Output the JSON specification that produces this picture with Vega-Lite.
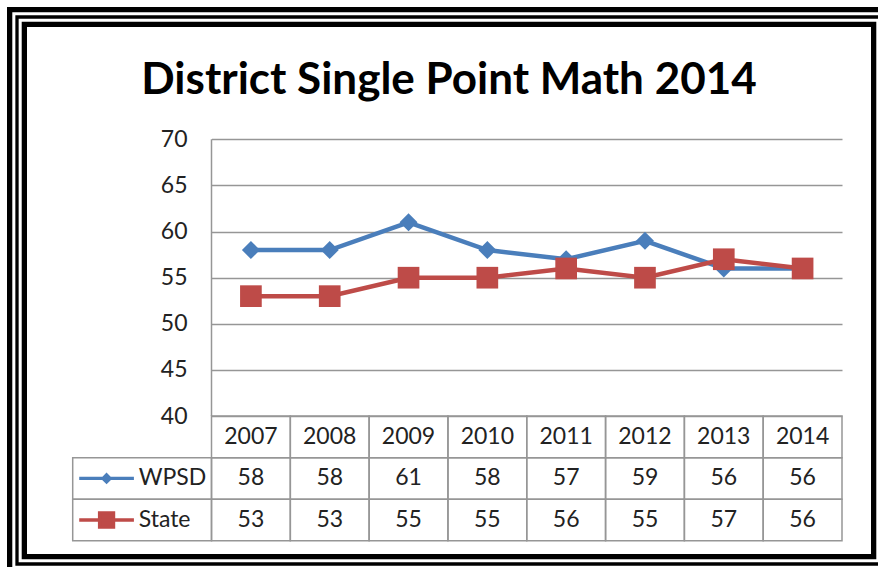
{
  "$schema": "https://vega.github.io/schema/vega-lite/v6.json",
  "width": 864,
  "height": 547,
  "autosize": {"type": "none"},
  "padding": {"left": 17, "top": 17, "right": -3, "bottom": 3},
  "background": "white",
  "config": {"view": {"stroke": null}, "font": "Lato"},
  "title": {
    "text": "District Single Point Math 2014",
    "font": "Lato",
    "fontSize": 44,
    "fontWeight": "bold",
    "color": "black",
    "anchor": "middle",
    "frame": "group",
    "offset": -131,
    "baseline": "alphabetic"
  },
  "data": {
    "values": [
      {"year": "2007", "series": "WPSD", "value": 58},
      {"year": "2008", "series": "WPSD", "value": 58},
      {"year": "2009", "series": "WPSD", "value": 61},
      {"year": "2010", "series": "WPSD", "value": 58},
      {"year": "2011", "series": "WPSD", "value": 57},
      {"year": "2012", "series": "WPSD", "value": 59},
      {"year": "2013", "series": "WPSD", "value": 56},
      {"year": "2014", "series": "WPSD", "value": 56},
      {"year": "2007", "series": "State", "value": 53},
      {"year": "2008", "series": "State", "value": 53},
      {"year": "2009", "series": "State", "value": 55},
      {"year": "2010", "series": "State", "value": 55},
      {"year": "2011", "series": "State", "value": 56},
      {"year": "2012", "series": "State", "value": 55},
      {"year": "2013", "series": "State", "value": 57},
      {"year": "2014", "series": "State", "value": 56}
    ]
  },
  "resolve": {
    "scale": {"x": "independent", "y": "independent", "color": "independent", "shape": "independent", "fill": "independent", "stroke": "independent"},
    "axis": {"x": "independent", "y": "independent"}
  },
  "layer": [
    {
      "data": {"values": [{}]},
      "layer": [
        {"mark": {"type": "rect", "fill": "transparent", "stroke": "black", "strokeWidth": 20}, "encoding": {}},
        {"mark": {"type": "rect", "fill": "transparent", "stroke": "white", "strokeWidth": 9.4}, "encoding": {}},
        {"mark": {"type": "rect", "fill": "transparent", "stroke": "black", "strokeWidth": 3.3}, "encoding": {}}
      ]
    },
    {
      "layer": [
        {
          "mark": {"type": "line", "strokeWidth": 4.5},
          "encoding": {
            "x": {"field": "year", "type": "ordinal", "scale": {"type": "band", "domain": ["2007","2008","2009","2010","2011","2012","2013","2014"], "range": [194.5, 825], "paddingInner": 0, "paddingOuter": 0}, "axis": null},
            "y": {"field": "value", "type": "quantitative", "scale": {"domain": [40, 70], "range": [399.1, 122.3], "nice": false, "zero": false},
              "axis": {"orient": "left", "offset": -825, "values": [40, 45, 50, 55, 60, 65, 70], "tickSize": 630.5, "tickColor": "#969696", "tickWidth": 1.5, "domain": false, "grid": false, "labelFont": "Lato", "labelFontSize": 23, "labelColor": "#222222", "labelPadding": 24.5, "title": null, "labelFlush": false, "labelOverlap": false, "zindex": 0}},
            "color": {"field": "series", "type": "nominal", "scale": {"domain": ["WPSD", "State"], "range": ["#4A7EBB", "#BE4B48"]}, "legend": null}
          }
        },
        {
          "mark": {"type": "point", "filled": true, "opacity": 1},
          "encoding": {
            "x": {"field": "year", "type": "ordinal"},
            "y": {"field": "value", "type": "quantitative"},
            "color": {"field": "series", "type": "nominal", "legend": null},
            "shape": {"field": "series", "type": "nominal", "scale": {"domain": ["WPSD", "State"], "range": ["diamond", "square"]}, "legend": null},
            "size": {"condition": {"test": "datum.series == 'WPSD'", "value": 324}, "value": 470}
          }
        },
        {
          "data": {"values": [{}]},
          "mark": {"type": "rule", "color": "#969696", "strokeWidth": 1.5},
          "encoding": {
            "x": {"datum": "2007", "type": "ordinal", "bandPosition": 0},
            "y": {"datum": 70, "type": "quantitative"},
            "y2": {"datum": 40}
          }
        }
      ]
    },
    {
      "layer": [
        {
          "transform": [{"filter": "datum.series == 'WPSD'"}],
          "mark": {"type": "rect", "fill": "transparent", "stroke": "#969696", "strokeWidth": 1.5},
          "encoding": {
            "x": {"field": "year", "type": "ordinal", "scale": {"type": "band", "domain": ["2007","2008","2009","2010","2011","2012","2013","2014"], "range": [194.5, 825], "paddingInner": 0, "paddingOuter": 0}, "axis": null},
            "y": {"datum": "header", "type": "nominal", "scale": {"type": "band", "domain": ["header", "WPSD", "State"], "range": [399.1, 523.8], "paddingInner": 0, "paddingOuter": 0}, "axis": null}
          }
        },
        {
          "transform": [{"filter": "datum.series == 'WPSD'"}],
          "mark": {"type": "text", "font": "Lato", "fontSize": 23, "color": "#222222", "baseline": "middle", "align": "center"},
          "encoding": {
            "x": {"field": "year", "type": "ordinal"},
            "y": {"datum": "header", "type": "nominal"},
            "text": {"field": "year"}
          }
        },
        {
          "mark": {"type": "rect", "fill": "transparent", "stroke": "#969696", "strokeWidth": 1.5},
          "encoding": {
            "x": {"field": "year", "type": "ordinal"},
            "y": {"field": "series", "type": "nominal"}
          }
        },
        {
          "mark": {"type": "text", "font": "Lato", "fontSize": 23, "color": "#222222", "baseline": "middle", "align": "center"},
          "encoding": {
            "x": {"field": "year", "type": "ordinal"},
            "y": {"field": "series", "type": "nominal"},
            "text": {"field": "value"}
          }
        }
      ]
    },
    {
      "transform": [{"filter": "datum.year == '2007'"}],
      "layer": [
        {
          "mark": {"type": "rect", "fill": "transparent", "stroke": "#969696", "strokeWidth": 1.5},
          "encoding": {
            "x": {"datum": "legend", "type": "nominal", "scale": {"type": "band", "domain": ["legend"], "range": [55.7, 194.5], "paddingInner": 0, "paddingOuter": 0}, "axis": null},
            "y": {"field": "series", "type": "nominal", "scale": {"type": "band", "domain": ["header", "WPSD", "State"], "range": [399.1, 523.8], "paddingInner": 0, "paddingOuter": 0}, "axis": null}
          }
        },
        {
          "mark": {"type": "point", "filled": true, "opacity": 1, "strokeWidth": 3.3},
          "encoding": {
            "x": {"datum": "legend", "type": "nominal", "bandPosition": 0.244},
            "y": {"field": "series", "type": "nominal"},
            "shape": {"field": "series", "type": "nominal", "scale": {"domain": ["WPSD", "State"], "range": ["M-1,0L1,0M0,-0.13L0.13,0L0,0.13L-0.13,0Z", "M-1,0L1,0M-0.256,-0.256L0.256,-0.256L0.256,0.256L-0.256,0.256Z"]}, "legend": null},
            "fill": {"field": "series", "type": "nominal", "scale": {"domain": ["WPSD", "State"], "range": ["#4A7EBB", "#BE4B48"]}, "legend": null},
            "stroke": {"field": "series", "type": "nominal", "scale": {"domain": ["WPSD", "State"], "range": ["#4A7EBB", "#BE4B48"]}, "legend": null},
            "size": {"value": 2992}
          }
        },
        {
          "mark": {"type": "text", "font": "Lato", "fontSize": 23, "color": "#222222", "baseline": "middle", "align": "left"},
          "encoding": {
            "x": {"datum": "legend", "type": "nominal", "bandPosition": 0.4755},
            "y": {"field": "series", "type": "nominal"},
            "text": {"field": "series"}
          }
        }
      ]
    }
  ]
}
